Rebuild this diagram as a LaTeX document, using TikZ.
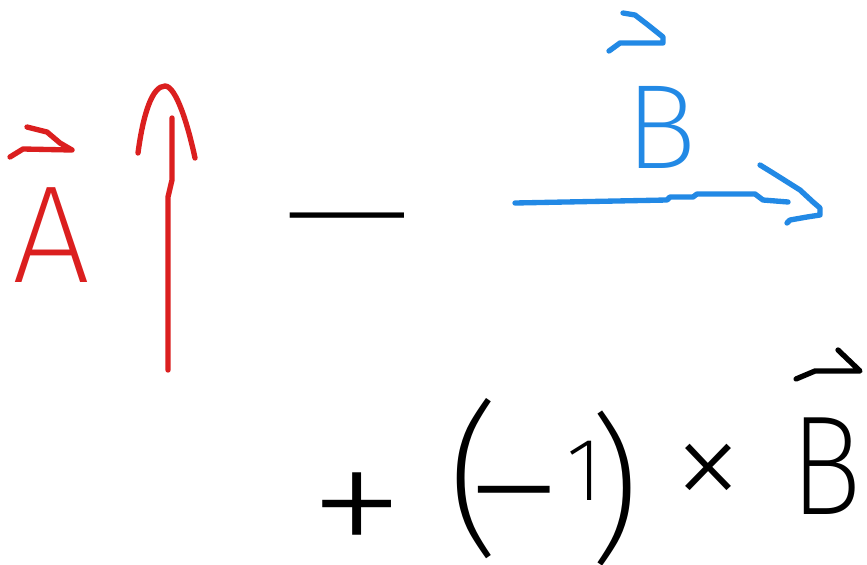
\documentclass[tikz,border=0pt]{standalone}
\usepackage{fontspec}
\newfontfamily\inkfont{Fira Sans ExtraLight}
\usepackage{tikz}
\usetikzlibrary{positioning}
\definecolor{inkred}{HTML}{DB1F1F}
\definecolor{inkblue}{HTML}{2289E5}
\newcommand{\inksize}[1]{\fontsize{#1}{#1}\selectfont}
\tikzset{
  stroke/.style={line width=4pt, line cap=round, line join=round},
  glyph/.style={inner sep=2pt, font=\inkfont},
}

\begin{document}
\begin{tikzpicture}[x=0.75pt, y=-0.75pt]
\fill[white] (0,0) rectangle (867,564);
\useasboundingbox (0,0) rectangle (867,564);

% vector A
\node[glyph, text=inkred] (Aname) at (51,235) {\inksize{104}A};
\draw[stroke, inkred] (10,157) -- (23,149) -- (72,150) -- (60,143) -- (47,132) -- (27,127);
\coordinate (Atail) at (168,370);
\coordinate (Atip) at (172,118);
\draw[stroke, inkred] (Atail) -- (168,197) -- (172,180) -- (Atip);
\draw[stroke, inkred] (138,153) .. controls (143,115) and (152,86) .. (165,86)
  .. controls (176,86) and (188,125) .. (195,158);

% minus
\node[glyph, anchor=north, xscale=2.6, transform shape] (minus) at (347,210) {\inksize{95}−};

% vector B
\node[glyph, text=inkblue] (Bname) at (661,127) {\inksize{90}B};
\draw[stroke, inkblue] (609,51) -- (620,43) -- (663,43) -- (663,37) -- (648,25) -- (635,15) -- (623,13);
\coordinate (Btail) at (515,203);
\coordinate (Btip) at (788,202);
\draw[stroke, inkblue] (Btail) -- (667,200) -- (670,197) -- (693,197) -- (697,194)
  -- (755,194) -- (763,200) -- (Btip);
\draw[stroke, inkblue] (760,165) -- (773,173) -- (800,190) -- (813,202) -- (820,208)
  -- (820,215) -- (807,217) -- (790,220) -- (787,223);

% + (-1) x B
\node[glyph, xscale=1.1, transform shape] (plus) at (357,518) {\inksize{135}+};
\node[glyph] (lparen) at (474,479) {\inksize{124}(};
\node[glyph, anchor=north, xscale=1.25, transform shape] (neg) at (514,483) {\inksize{124}−};
\node[glyph] (one) at (585,471) {\inksize{67}1};
\node[glyph] (rparen) at (614,488) {\inksize{120})};
\node[glyph] (times) at (708,478) {\inksize{110}×};
\node[glyph, xscale=0.85, transform shape] (Bterm) at (826,466) {\inksize{106}B};
\draw[stroke] (796,379) -- (815,371) -- (860,371) -- (838,350);
\end{tikzpicture}
\end{document}
